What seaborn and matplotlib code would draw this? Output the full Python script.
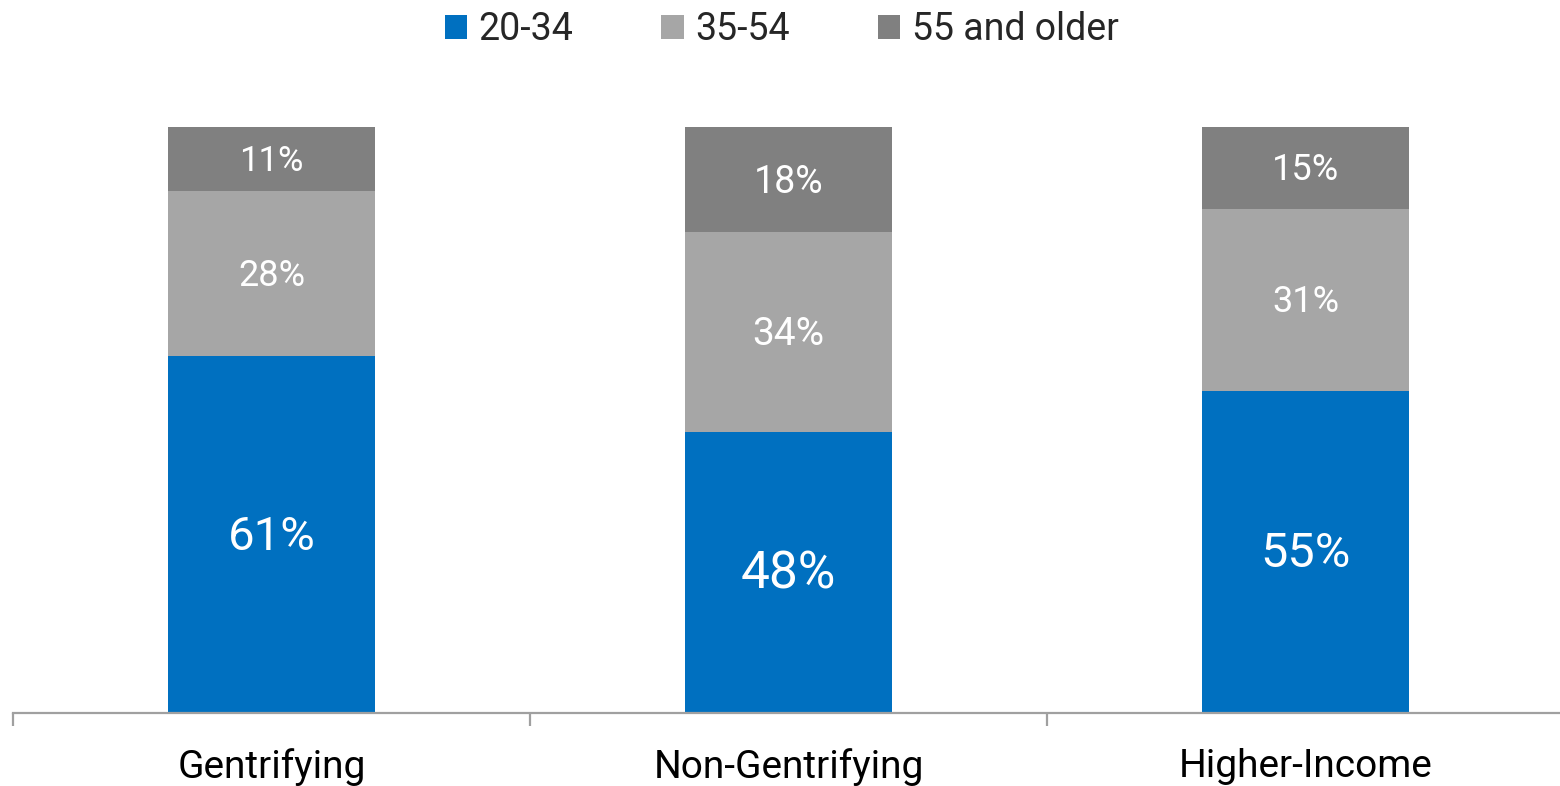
import matplotlib
matplotlib.use("Agg")
import matplotlib.pyplot as plt
import seaborn as sns
import pandas as pd
from matplotlib.patches import Patch
from matplotlib.ticker import FixedLocator

# Age distribution by neighborhood type (percent of residents)
categories = ["Gentrifying", "Non-Gentrifying", "Higher-Income"]
age_groups = ["20-34", "35-54", "55 and older"]
share_20_34 = [61, 48, 55]
share_35_54 = [28, 34, 31]
share_55_plus = [11, 18, 15]

colors = ["#0070C0", "#A6A6A6", "#808080"]

sns.set_theme(style="white")
plt.rcParams["font.family"] = ["Roboto", "DejaVu Sans"]

df = pd.DataFrame({
    "category": categories,
    "a": share_20_34,
    "b": share_35_54,
    "c": share_55_plus,
})
df["cum_a"] = df["a"]
df["cum_b"] = df["a"] + df["b"]
df["cum_c"] = df["a"] + df["b"] + df["c"]

fig = plt.figure(figsize=(15.6, 7.86), dpi=100)
ax = fig.add_axes([13 / 1560, 73 / 786, 1551 / 1560, 586 / 786])

# Stacked bars: draw cumulative totals from the top segment down
for col, color in zip(["cum_c", "cum_b", "cum_a"], colors[::-1]):
    sns.barplot(data=df, x="category", y=col, color=color, width=0.4,
                saturation=1, ax=ax, linewidth=0, order=categories)

ax.set_ylim(0, 100)
ax.set_xlim(-0.5, 2.5)
ax.set_xlabel("")
ax.set_ylabel("")
ax.set_yticks([])

for side in ["left", "right", "top"]:
    ax.spines[side].set_visible(False)
ax.spines["bottom"].set_color("#A0A0A0")
ax.spines["bottom"].set_linewidth(1.6)
ax.spines["bottom"].set_clip_on(False)

ax.tick_params(axis="x", which="major", length=0, pad=25, labelsize=28,
               labelcolor="black")
ax.xaxis.set_minor_locator(FixedLocator([-0.5, 0.5, 1.5, 2.5]))
ax.tick_params(axis="x", which="minor", length=9.5, width=1.6,
               color="#A0A0A0", direction="out", bottom=True)

# Segment labels
label_sizes = {
    "a": [34, 37, 35],
    "b": [26, 28, 26],
    "c": [25, 27, 26],
}
for i in range(len(categories)):
    lo = 0
    for key in ["a", "b", "c"]:
        val = df[key].iloc[i]
        hi = min(lo + val, 100)
        ax.text(i, (lo + hi) / 2 - 0.4, f"{val}%", ha="center", va="center",
                color="white", fontsize=label_sizes[key][i])
        lo = hi

handles = [Patch(facecolor=c, edgecolor="none") for c in colors]
fig.legend(handles, age_groups, loc="center", bbox_to_anchor=(0.501, 0.962),
           ncol=3, frameon=False, fontsize=27, handlelength=0.6,
           handleheight=0.6, handletextpad=0.3, columnspacing=2.35)

fig.savefig("out.png", dpi=100)
